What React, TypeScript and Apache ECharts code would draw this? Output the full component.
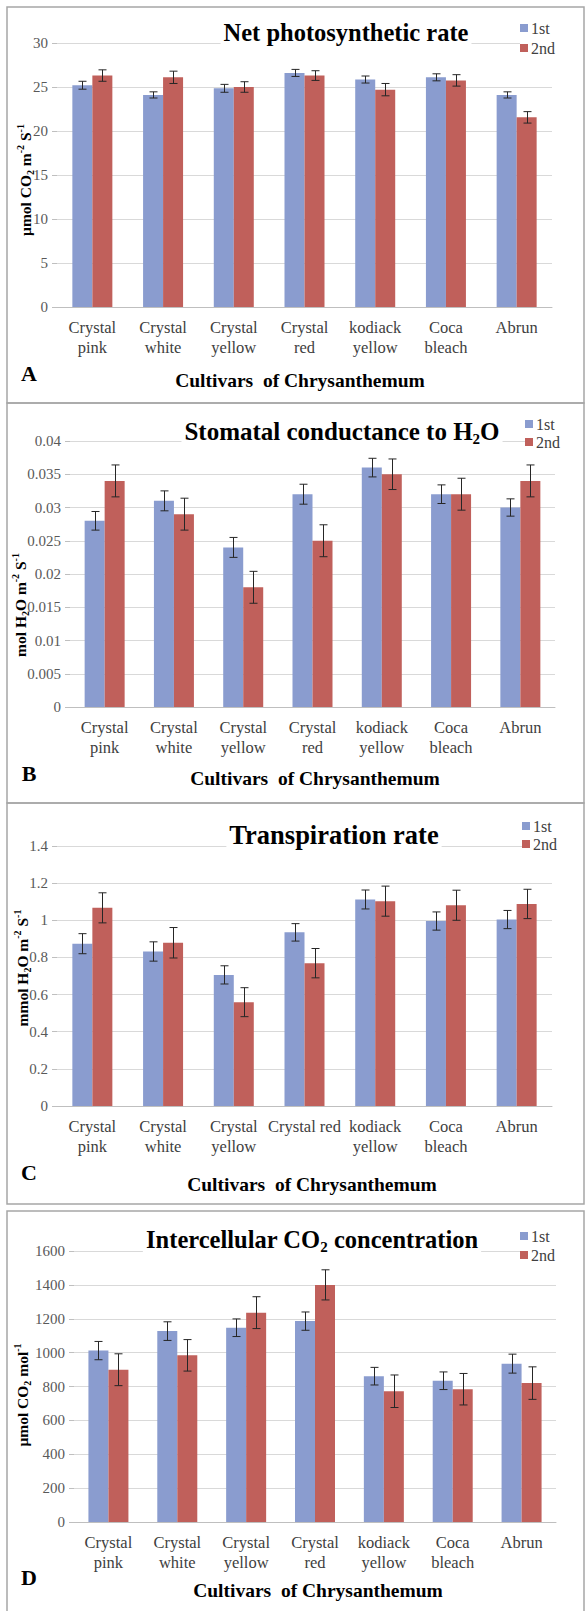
import React, { useEffect, useRef } from "react";
import * as echarts from "echarts";

// ---------- data ----------
const categoryLabels = ["Crystal\npink", "Crystal\nwhite", "Crystal\nyellow", "Crystal\nred", "kodiack\nyellow", "Coca\nbleach", "Abrun"];
const categoryLabelsC = ["Crystal\npink", "Crystal\nwhite", "Crystal\nyellow", "Crystal red", "kodiack\nyellow", "Coca\nbleach", "Abrun"];
const seriesNames = ["1st", "2nd"];

const netPhoto1 = [25.2, 24.1, 24.85, 26.6, 25.85, 26.1, 24.1];
const netPhoto1Err = [0.45, 0.35, 0.45, 0.4, 0.4, 0.4, 0.35];
const netPhoto2 = [26.3, 26.1, 25.0, 26.3, 24.7, 25.75, 21.55];
const netPhoto2Err = [0.65, 0.7, 0.6, 0.55, 0.7, 0.65, 0.65];

const stomatal1 = [0.028, 0.031, 0.024, 0.032, 0.036, 0.032, 0.03];
const stomatal1Err = [0.0014, 0.0015, 0.0015, 0.0015, 0.0014, 0.0014, 0.0013];
const stomatal2 = [0.034, 0.029, 0.018, 0.025, 0.035, 0.032, 0.034];
const stomatal2Err = [0.0024, 0.0024, 0.0024, 0.0024, 0.0023, 0.0024, 0.0024];

const transp1 = [0.874, 0.832, 0.706, 0.935, 1.112, 0.996, 1.004];
const transp1Err = [0.054, 0.052, 0.049, 0.047, 0.051, 0.049, 0.049];
const transp2 = [1.067, 0.879, 0.559, 0.769, 1.103, 1.081, 1.088];
const transp2Err = [0.081, 0.082, 0.078, 0.079, 0.081, 0.081, 0.079];

const co2First = [1012, 1127, 1147, 1186, 861, 834, 935];
const co2FirstErr = [54, 55, 52, 54, 52, 52, 56];
const co2Second = [899, 984, 1236, 1400, 772, 784, 820];
const co2SecondErr = [94, 93, 94, 89, 96, 93, 96];

const yMaxes = [30, 0.04, 1.4, 1600];
const yIntervals = [5, 0.005, 0.2, 200];

const titleTexts = [
  "{t|Net photosynthetic rate}",
  "{t|Stomatal conductance to H}{s|2}{t|O}",
  "{t|Transpiration rate}",
  "{t|Intercellular CO}{s|2}{t| concentration}",
];
const yNames = [
  "{n|\u03bcmol CO}{s|2}{n| m}{p|-2}{n| S}{p|-1}",
  "{n|mol H}{s|2}{n|O m}{p|-2}{n| S}{p|-1}",
  "{n|mmol H}{s|2}{n|O m}{p|-2}{n| S}{p|-1}",
  "{n|\u03bcmol CO}{s|2}{n| mol}{p|-1}",
];
const panelLetters = ["A", "B", "C", "D"];
const xTitle = "Cultivars  of Chrysanthemum";

// ---------- layout / style ----------
const FONT = "Liberation Serif, Times New Roman, serif";
const BLUE = "#8a9ccf";
const RED = "#c0605b";
const BAR_W = 20;

const LAYOUT = [
  { grid: { left: 57, top: 43, width: 495, height: 264 }, titleSize: 24.5, titleX: 346, titleY: 32, legendX: 520, legendY: 28, legendGap: 4, letterY: 373, xTitleX: 300, xTitleY: 380, yNameX: 25, yNameY: 180, box: [7, 7, 577, 396] },
  { grid: { left: 70, top: 441, width: 485, height: 266 }, titleSize: 25, titleX: 342, titleY: 431, legendX: 525, legendY: 424, legendGap: 2, letterY: 773, xTitleX: 315, xTitleY: 778, yNameX: 20, yNameY: 605, box: [7, 403, 577, 400] },
  { grid: { left: 57, top: 846, width: 495, height: 260 }, titleSize: 26.5, titleX: 334, titleY: 835, legendX: 522, legendY: 826, legendGap: 2, letterY: 1172, xTitleX: 312, xTitleY: 1184, yNameX: 22, yNameY: 968, box: [7, 803, 577, 401] },
  { grid: { left: 74, top: 1251, width: 482, height: 271 }, titleSize: 24.5, titleX: 312, titleY: 1239, legendX: 520, legendY: 1236, legendGap: 3, letterY: 1577, xTitleX: 318, xTitleY: 1590, yNameX: 22, yNameY: 1395, box: [7, 1211, 577, 410] },
];

const panelValues = [
  [netPhoto1, netPhoto2],
  [stomatal1, stomatal2],
  [transp1, transp2],
  [co2First, co2Second],
];
const panelErrors = [
  [netPhoto1Err, netPhoto2Err],
  [stomatal1Err, stomatal2Err],
  [transp1Err, transp2Err],
  [co2FirstErr, co2SecondErr],
];
const panelLabels = [categoryLabels, categoryLabels, categoryLabelsC, categoryLabels];

function errSeries(p: number, s: number, vals: number[], errs: number[]) {
  const data = vals.map((v, i) => [i, v - errs[i], v + errs[i]]);
  const off = (s === 0 ? -1 : 1) * (BAR_W / 2);
  return {
    type: "custom",
    xAxisIndex: p,
    yAxisIndex: p,
    z: 5,
    silent: true,
    data,
    encode: { x: 0, y: [1, 2] },
    renderItem: (params: any, api: any) => {
      const x = api.value(0);
      const lo = api.coord([x, api.value(1)]);
      const hi = api.coord([x, api.value(2)]);
      const cx = Math.round(lo[0] + off) + 0.5;
      const st = { stroke: "#262626", lineWidth: 1 };
      return {
        type: "group",
        children: [
          { type: "line", shape: { x1: cx, y1: hi[1], x2: cx, y2: lo[1] }, style: st },
          { type: "line", shape: { x1: cx - 4, y1: hi[1], x2: cx + 4, y2: hi[1] }, style: st },
          { type: "line", shape: { x1: cx - 4, y1: lo[1], x2: cx + 4, y2: lo[1] }, style: st },
        ],
      };
    },
  };
}

function buildOption() {
  const grids: any[] = [];
  const xAxes: any[] = [];
  const yAxes: any[] = [];
  const series: any[] = [];
  const legends: any[] = [];
  const graphics: any[] = [];

  const nameRich = {
    n: { fontFamily: FONT, fontSize: 15.5, fontWeight: "bold", fill: "#000", lineHeight: 20 },
    s: { fontFamily: FONT, fontSize: 10, fontWeight: "bold", fill: "#000", lineHeight: 9, verticalAlign: "bottom" },
    p: { fontFamily: FONT, fontSize: 10, fontWeight: "bold", fill: "#000", lineHeight: 9, verticalAlign: "top" },
  };

  LAYOUT.forEach((L, p) => {
    const titleRich = {
      t: { fontFamily: FONT, fontSize: L.titleSize, fontWeight: "bold", fill: "#000", lineHeight: 30 },
      s: { fontFamily: FONT, fontSize: 15, fontWeight: "bold", fill: "#000", lineHeight: 14, verticalAlign: "bottom" },
    };
    grids.push({ ...L.grid, containLabel: false });
    xAxes.push({
      gridIndex: p,
      type: "category",
      data: panelLabels[p],
      axisTick: { show: false },
      axisLine: { lineStyle: { color: "#bfbfbf", width: 1 } },
      axisLabel: { interval: 0, fontFamily: FONT, fontSize: 16.5, lineHeight: 20, color: "#404040", margin: 10 },
    });
    yAxes.push({
      gridIndex: p,
      type: "value",
      min: 0,
      max: yMaxes[p],
      interval: yIntervals[p],
      axisLine: { show: false },
      axisTick: { show: true, length: 5, lineStyle: { color: "#bfbfbf" } },
      splitLine: { lineStyle: { color: "#d9d9d9", width: 1 } },
      axisLabel: {
        fontFamily: FONT,
        fontSize: 15,
        color: "#595959",
        margin: 9,
        formatter: (v: number) => String(Math.round(v * 10000) / 10000),
      },
    });
    [0, 1].forEach((s) => {
      series.push({
        type: "bar",
        name: seriesNames[s],
        xAxisIndex: p,
        yAxisIndex: p,
        data: panelValues[p][s],
        barWidth: BAR_W,
        barGap: "0%",
        itemStyle: { color: s === 0 ? BLUE : RED },
        silent: true,
      });
    });
    [0, 1].forEach((s) => series.push(errSeries(p, s, panelValues[p][s], panelErrors[p][s])));
    legends.push({
      data: seriesNames,
      orient: "vertical",
      left: L.legendX,
      top: L.legendY - 8,
      itemWidth: 8,
      itemHeight: 8,
      itemGap: L.legendGap,
      icon: "rect",
      padding: [0, 2, 0, 0],
      backgroundColor: "#fff",
      selectedMode: false,
      textStyle: { fontFamily: FONT, fontSize: 16, color: "#404040", padding: [0, 0, 0, -2] },
    });
    const [bx, by, bw, bh] = L.box;
    graphics.push({ type: "rect", z: 0, shape: { x: bx, y: by, width: bw, height: bh }, style: { fill: "none", stroke: "#a6a6a6", lineWidth: 1.5 } });
    graphics.push({
      type: "text",
      z: 100,
      x: L.titleX,
      y: L.titleY,
      style: { text: titleTexts[p], rich: titleRich, align: "center", verticalAlign: "middle", backgroundColor: "#fff", padding: [0, 3] },
    });
    graphics.push({
      type: "text",
      z: 100,
      x: 29,
      y: L.letterY,
      style: { text: panelLetters[p], fontFamily: FONT, fontSize: 22, fontWeight: "bold", fill: "#000", align: "center", verticalAlign: "middle" },
    });
    graphics.push({
      type: "text",
      z: 100,
      x: L.xTitleX,
      y: L.xTitleY,
      style: { text: xTitle, fontFamily: FONT, fontSize: 19.5, fontWeight: "bold", fill: "#000", align: "center", verticalAlign: "middle" },
    });
    graphics.push({
      type: "text",
      z: 100,
      x: L.yNameX,
      y: L.yNameY,
      rotation: Math.PI / 2,
      style: { text: yNames[p], rich: nameRich, align: "center", verticalAlign: "middle" },
    });
  });

  return {
    animation: false,
    backgroundColor: "#ffffff",
    textStyle: { fontFamily: FONT },
    grid: grids,
    xAxis: xAxes,
    yAxis: yAxes,
    legend: legends,
    series,
    graphic: graphics,
  };
}

export default function App() {
  const ref = useRef<HTMLDivElement>(null);
  useEffect(() => {
    const chart = echarts.init(ref.current as HTMLDivElement, null, { renderer: "svg" });
    chart.setOption(buildOption() as any);
    return () => chart.dispose();
  }, []);
  return (
    <div
      ref={ref}
      style={{ position: "absolute", left: 0, top: 0, width: 586, height: 1611, background: "#fff", fontFamily: FONT }}
    />
  );
}
